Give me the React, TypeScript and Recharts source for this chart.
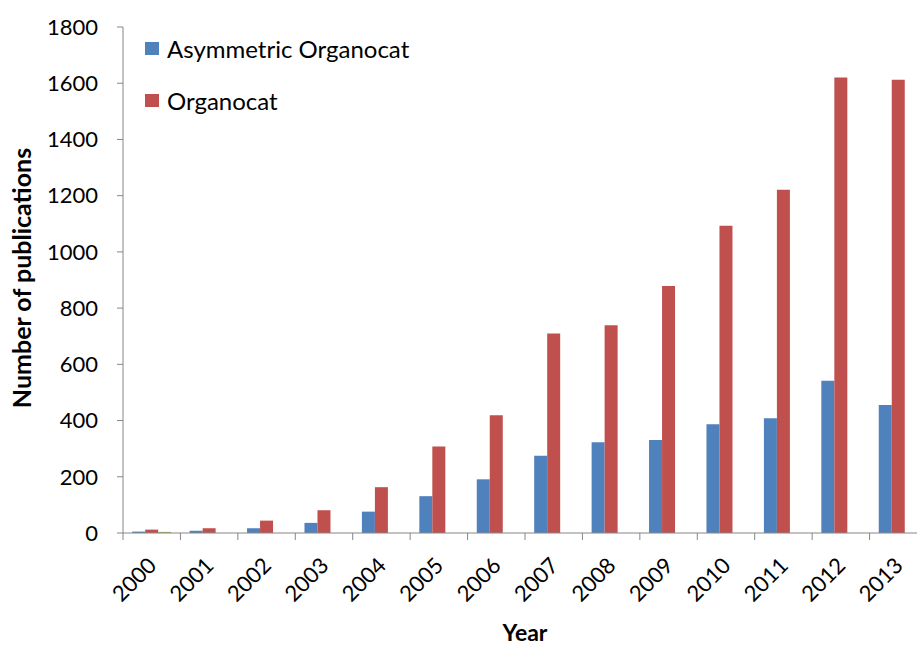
import React from "react";
import { BarChart, Bar, XAxis, YAxis, Legend } from "recharts";

const years = ["2000", "2001", "2002", "2003", "2004", "2005", "2006", "2007", "2008", "2009", "2010", "2011", "2012", "2013"];
const asymmetric = [5, 8, 17, 36, 76, 131, 191, 275, 323, 331, 387, 408, 542, 455];
const organocat = [12, 17, 44, 81, 163, 308, 419, 710, 739, 879, 1093, 1221, 1620, 1612];
// third (unlabelled) series, only visible in 2000
const other = [4, 0, 0, 0, 0, 0, 0, 0, 0, 0, 0, 0, 0, 0];
const yTicks = [0, 200, 400, 600, 800, 1000, 1200, 1400, 1600, 1800];

const series = [
  { key: "asym", name: "Asymmetric Organocat", color: "#4F81BD" },
  { key: "org", name: "Organocat", color: "#C0504D" },
];

const data = years.map((year, i) => ({
  year,
  asym: asymmetric[i],
  org: organocat[i],
  other: other[i],
}));

const W = 940;
const H = 646;
const margin = { top: 27, right: 13, bottom: 0, left: 0 };
const yAxisWidth = 123;
const xAxisHeight = 113;
const band = (W - margin.left - margin.right - yAxisWidth) / years.length;
const axisColor = "#868686";
const font = "Lato, 'Open Sans', sans-serif";

function YearTick(props: any) {
  const { x, y, payload } = props;
  const left = x - band / 2;
  return (
    <g>
      <line x1={left} y1={y} x2={left} y2={y + 7} stroke={axisColor} />
      <text
        x={x + 6}
        y={y + 34}
        transform={`rotate(-45, ${x + 6}, ${y + 34})`}
        textAnchor="end"
        fontSize={22}
        fill="#000"
        fontFamily={font}
      >
        {payload.value}
      </text>
    </g>
  );
}

function YTitle(props: any) {
  const { y, height } = props.viewBox;
  const cx = 31;
  const cy = y + height / 2 - 2;
  return (
    <text
      x={cx}
      y={cy}
      transform={`rotate(-90, ${cx}, ${cy})`}
      textAnchor="middle"
      fontSize={25}
      fontWeight="bold"
      fill="#000"
      fontFamily={font}
    >
      Number of publications
    </text>
  );
}

function LegendBox() {
  return (
    <div style={{ fontFamily: font, fontSize: 24, color: "#000" }}>
      {series.map((s) => (
        <div key={s.key} style={{ display: "flex", alignItems: "center", height: 52 }}>
          <span style={{ display: "inline-block", width: 14, height: 13, background: s.color, marginRight: 8 }} />
          <span>{s.name}</span>
        </div>
      ))}
    </div>
  );
}

export default function App() {
  return (
    <div
      style={{
        position: "absolute",
        left: 0,
        top: 0,
        width: 917,
        height: 646,
        overflow: "hidden",
        background: "#fff",
        fontFamily: font,
      }}
    >
      <BarChart width={W} height={H} data={data} margin={margin} barCategoryGap="16%" barGap={0}>
        <XAxis
          dataKey="year"
          height={xAxisHeight}
          stroke={axisColor}
          tickLine={false}
          tickSize={0}
          tickMargin={0}
          interval={0}
          tick={<YearTick />}
          label={{ value: "Year", position: "insideBottom", offset: 5, fontSize: 23, fontWeight: "bold", fill: "#000" }}
        />
        <YAxis
          width={yAxisWidth}
          domain={[0, 1800]}
          ticks={yTicks}
          interval={0}
          stroke={axisColor}
          tickSize={6}
          tickMargin={19}
          tick={{ fontSize: 22, fill: "#000" }}
          label={<YTitle />}
        />
        <Legend
          verticalAlign="middle"
          align="center"
          layout="horizontal"
          content={<LegendBox />}
          wrapperStyle={{ left: 145, top: 22, width: 340 }}
        />
        <Bar dataKey="asym" name="Asymmetric Organocat" fill="#4F81BD" isAnimationActive={false} />
        <Bar dataKey="org" name="Organocat" fill="#C0504D" isAnimationActive={false} />
        <Bar dataKey="other" fill="#9BBB59" legendType="none" isAnimationActive={false} />
      </BarChart>
    </div>
  );
}
